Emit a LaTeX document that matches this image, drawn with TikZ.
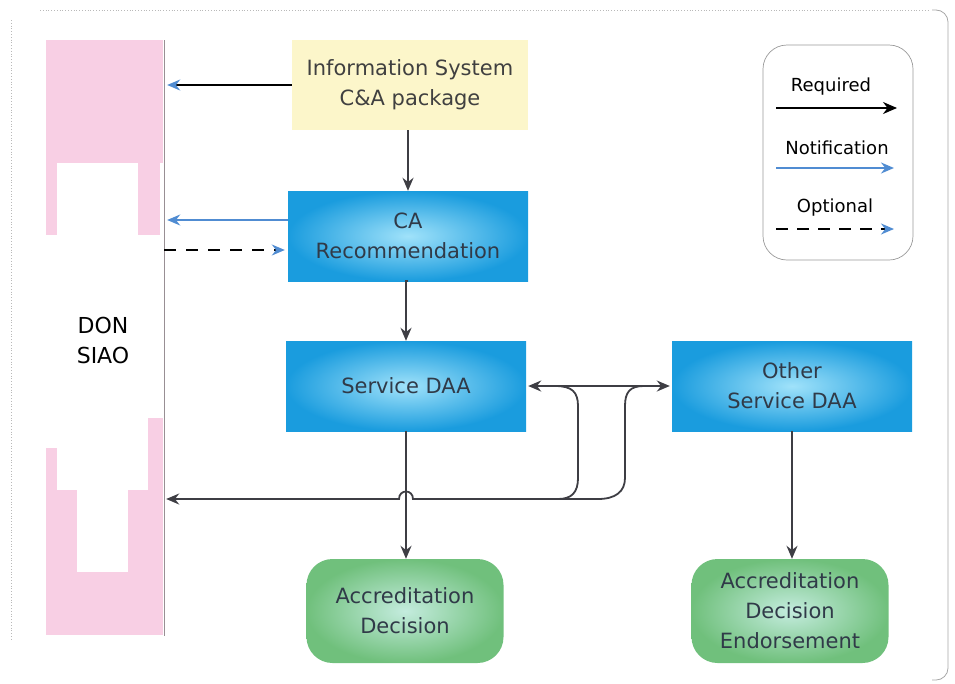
\documentclass[tikz,border=0pt]{standalone}
\usepackage{fontspec}
\setmainfont{DejaVu Sans}
\usetikzlibrary{arrows.meta}
\definecolor{pinkc}{RGB}{248,207,228}
\definecolor{yellowc}{RGB}{252,246,202}
\definecolor{blueout}{RGB}{26,156,222}
\definecolor{bluein}{RGB}{160,226,250}
\definecolor{greenout}{RGB}{112,192,124}
\definecolor{greenin}{RGB}{196,236,222}
\definecolor{boxtext}{RGB}{48,58,72}
\definecolor{linec}{RGB}{62,62,68}
\definecolor{arrowblue}{RGB}{80,140,210}
\begin{document}
\begin{tikzpicture}[x=1pt,y=-1pt,
  boxtxt/.style={align=center, text=boxtext, font=\fontsize{21}{30}\selectfont, inner sep=0pt},
  bluebox/.style={boxtxt, minimum width=240pt, minimum height=90pt, inner color=bluein, outer color=blueout},
  greenbox/.style={boxtxt, minimum width=197pt, minimum height=104pt, rounded corners=26pt, inner color=greenin, outer color=greenout},
  conn/.style={draw=linec, line width=1.8pt},
  tip/.style={-{Stealth[length=13pt,width=11pt]}},
  legtxt/.style={font=\fontsize{18}{20}\selectfont, inner sep=0pt}
]
\useasboundingbox (0,0) rectangle (955,683);
% outer frame
\draw[gray!55, dotted, line width=0.8pt] (40,10) -- (930,10);
\draw[gray!55, dotted, line width=0.8pt] (11,20) -- (11,640);
\draw[gray!70, line width=0.8pt, rounded corners=12pt] (932,10) -- (948,10) -- (948,680) -- (932,680);
% pink bar (as scanned)
\fill[pinkc] (46,40) rectangle (163,163);
\fill[pinkc] (46,163) rectangle (57,235);
\fill[pinkc] (138,163) rectangle (160,235);
\fill[pinkc] (148,418) rectangle (163,490);
\fill[pinkc] (46,448) rectangle (57,490);
\fill[pinkc] (46,490) rectangle (77,572);
\fill[pinkc] (128,490) rectangle (163,572);
\fill[pinkc] (46,572) rectangle (163,635);
\draw[gray!80!pinkc, line width=1pt] (164,40) -- (164,636);
\node[minimum width=118pt, minimum height=596pt, inner sep=0pt] (don) at (105,338) {};
\node[align=center, font=\fontsize{22}{30}\selectfont, inner sep=0pt] (dontxt) at (103,340) {DON\\SIAO};
% boxes
\node[boxtxt, fill=yellowc, minimum width=236pt, minimum height=90pt, text=black!75] (info) at (410,85) {Information System\\C\&A package};
\node[bluebox] (ca) at (408,236) {CA\\Recommendation};
\node[bluebox] (sdaa) at (406,386) {Service DAA};
\node[bluebox] (odaa) at (792,386) {Other\\Service DAA};
\node[greenbox] (acc) at (405,611) {Accreditation\\Decision};
\node[greenbox] (end) at (790,611) {Accreditation\\Decision\\Endorsement};
% connectors to/from DON SIAO
\draw[draw=black, line width=1.8pt, -{Stealth[length=13pt,width=11pt,color=arrowblue]}, shorten >=3pt] (info.west) -- (info.west -| don.east);
\draw[draw=arrowblue, line width=1.6pt, -{Stealth[length=13pt,width=11pt,color=arrowblue]}, shorten >=3pt] ([yshift=16pt]ca.west) -- ([yshift=16pt]ca.west -| don.east);
\draw[draw=black, line width=1.6pt, dash pattern=on 12pt off 10pt, -{Stealth[length=13pt,width=11pt,color=arrowblue]}, shorten >=3pt] ([yshift=-14pt]ca.west -| don.east) -- ([yshift=-14pt]ca.west);
% vertical flow
\draw[conn, tip] (ca.north |- info.south) -- (ca.north);
\draw[conn, tip] (ca.south) -- (sdaa.north |- ca.south) -- (sdaa.north);
\draw[conn, tip] (sdaa.south) -- (acc.north -| sdaa.south);
\draw[conn, tip] (odaa.south) -- (end.north -| odaa.south);
% double arrow
\draw[conn, {Stealth[length=13pt,width=11pt]}-{Stealth[length=13pt,width=11pt]}, shorten <=2pt, shorten >=2pt] (sdaa.east) -- (odaa.west);
% branches
\coordinate (b1t) at (555,386);
\coordinate (b1b) at (558,499);
\coordinate (b2t) at (644,386);
\coordinate (b2b) at (598,499);
\draw[conn] (b1t) .. controls (572,386) and (578,392) .. (578,406) -- (578,478) .. controls (578,492) and (572,499) .. (b1b);
\draw[conn] (b2t) .. controls (630,386) and (625,392) .. (625,406) -- (625,478) .. controls (625,492) and (615,499) .. (b2b);
\draw[conn, tip, shorten >=2pt] (b2b) -- (413,499) .. controls (413,489) and (399,489) .. (399,499) -- (b2b -| don.east);
% legend
\draw[gray!80, line width=0.7pt, rounded corners=24pt] (763,45) rectangle (913,260);
\node[legtxt] (lreq) at (831,87) {Required};
\node[legtxt] (lnot) at (837,148) {Notification};
\node[legtxt] (lopt) at (835,208) {Optional};
\coordinate (r1) at (776,108); \coordinate (r2) at (897,108);
\coordinate (n1) at (776,168); \coordinate (n2) at (894,168);
\coordinate (o1) at (776,229); \coordinate (o2) at (894,229);
\draw[black, line width=2pt, -{Stealth[length=14pt,width=12pt]}] (r1) -- (r2);
\draw[arrowblue, line width=1.8pt, -{Stealth[length=13pt,width=11pt]}] (n1) -- (n2);
\draw[black, line width=1.6pt, dash pattern=on 12pt off 9pt, -{Stealth[length=13pt,width=11pt,color=arrowblue]}] (o1) -- (o2);
\end{tikzpicture}
\end{document}
